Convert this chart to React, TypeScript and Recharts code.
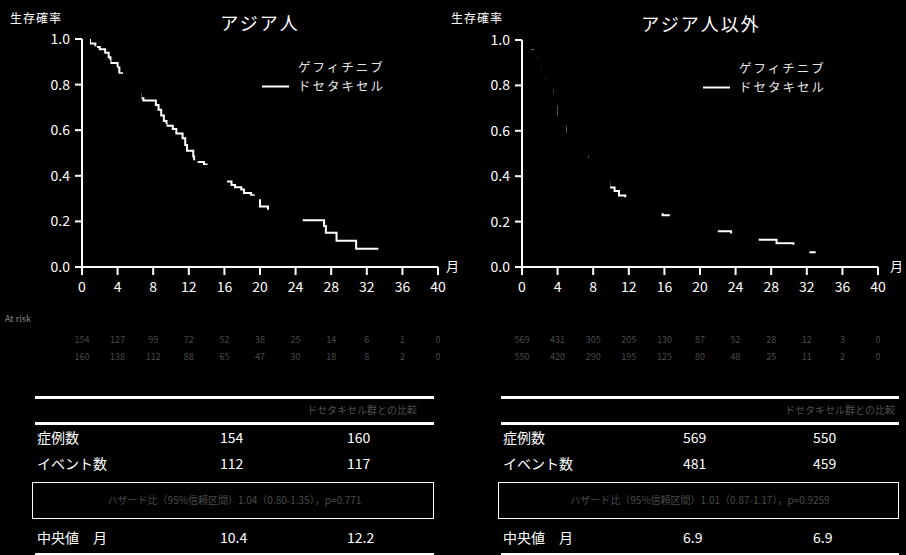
import React from 'react';
import { LineChart, Line, XAxis, YAxis, Legend } from 'recharts';

const FONT = '"Noto Sans CJK JP", "Noto Sans", sans-serif';

// ---------- axis ticks ----------
const xTicks = [0, 4, 8, 12, 16, 20, 24, 28, 32, 36, 40];
const yTicks = [0, 0.2, 0.4, 0.6, 0.8, 1.0];
const seriesNames = ['ゲフィチニブ', 'ドセタキセル'];

// ---------- アジア人 ----------
const asianDocMonths = [0, 0.9, 1.5, 2.0, 2.6, 3.0, 3.2, 4.0, 4.2, 4.5, 5.0, 5.5, 6.0, 6.6, 6.9, 8.3, 8.6, 8.9, 9.2, 9.5, 10.2, 10.6, 11.3, 11.6, 11.8, 12.5, 12.6, 13.7, 14.0, 14.3, 14.8, 15.3, 16.0, 16.8, 17.2, 17.9, 18.2, 19.0, 19.3, 20.0, 20.9, 21.2, 22.0, 23.0, 24.4, 27.2, 27.4, 28.6, 30.8, 33.3];
const asianDocSurv = [1.0, 0.98, 0.965, 0.955, 0.94, 0.92, 0.895, 0.875, 0.85, 0.83, 0.80, 0.78, 0.76, 0.74, 0.73, 0.71, 0.69, 0.665, 0.64, 0.62, 0.605, 0.585, 0.565, 0.535, 0.51, 0.485, 0.46, 0.45, 0.43, 0.415, 0.40, 0.385, 0.375, 0.36, 0.35, 0.34, 0.325, 0.315, 0.305, 0.265, 0.255, 0.245, 0.235, 0.22, 0.205, 0.18, 0.15, 0.115, 0.08, 0.08];
const asianGefMonths = [0, 0.7, 1.5, 2.3, 3.0, 3.8, 4.5, 5.0, 5.5, 6.0, 6.5, 7.2, 8.0, 8.6, 9.3, 10.0, 10.4, 11.0, 11.8, 12.8, 14.0, 14.3, 14.8, 15.3, 16.0, 16.1, 21.2, 22.0, 23.0, 24.4, 24.6, 25.5, 27.0, 28.0, 30.0, 32.0];
const asianGefSurv = [1.0, 0.96, 0.93, 0.90, 0.87, 0.84, 0.83, 0.80, 0.78, 0.76, 0.71, 0.68, 0.65, 0.62, 0.58, 0.53, 0.50, 0.48, 0.46, 0.44, 0.43, 0.415, 0.40, 0.385, 0.375, 0.305, 0.245, 0.235, 0.22, 0.205, 0.17, 0.14, 0.12, 0.09, 0.06, 0.05];

// ---------- アジア人以外 ----------
const nonAsianDocMonths = [0, 0.5, 0.8, 1.3, 1.8, 2.1, 2.3, 2.6, 2.8, 3.2, 3.6, 3.9, 4.1, 4.6, 5.1, 5.6, 6.0, 6.9, 7.6, 8.3, 9.1, 9.8, 10.4, 10.9, 11.6, 12.5, 13.1, 14.5, 15.8, 16.8, 18.5, 20.1, 21.5, 21.8, 23.5, 24.7, 26.5, 28.6, 30.5, 32.1, 33.0];
const nonAsianDocSurv = [1.0, 0.97, 0.955, 0.935, 0.92, 0.89, 0.87, 0.845, 0.83, 0.80, 0.765, 0.72, 0.67, 0.63, 0.595, 0.57, 0.55, 0.50, 0.485, 0.43, 0.375, 0.35, 0.335, 0.315, 0.295, 0.28, 0.265, 0.245, 0.228, 0.215, 0.20, 0.182, 0.165, 0.157, 0.14, 0.125, 0.12, 0.105, 0.085, 0.065, 0.065];
const nonAsianGefMonths = [0, 0.5, 0.8, 1.3, 1.9, 2.1, 2.35, 2.6, 2.9, 3.2, 3.7, 3.9, 4.2, 4.6, 5.2, 5.6, 6.0, 6.9, 7.7, 8.3, 9.1, 9.7, 11.6, 12.5, 13.1, 14.5, 16.8, 18.5, 20.1, 21.5, 21.8, 24.7, 26.4, 30.5, 32.1, 33.0];
const nonAsianGefSurv = [1.0, 0.97, 0.95, 0.935, 0.92, 0.89, 0.87, 0.845, 0.83, 0.80, 0.765, 0.72, 0.67, 0.63, 0.595, 0.57, 0.55, 0.50, 0.485, 0.43, 0.375, 0.30, 0.295, 0.28, 0.265, 0.245, 0.215, 0.20, 0.182, 0.165, 0.14, 0.125, 0.09, 0.085, 0.05, 0.05];

// ---------- at risk ----------
const atRiskMonths = [0, 4, 8, 12, 16, 20, 24, 28, 32, 36, 40];
const asianGefRisk = [154, 127, 99, 72, 52, 38, 25, 14, 6, 1, 0];
const asianDocRisk = [160, 138, 112, 88, 65, 47, 30, 18, 8, 2, 0];
const nonAsianGefRisk = [569, 431, 305, 205, 130, 87, 52, 28, 12, 3, 0];
const nonAsianDocRisk = [550, 420, 290, 195, 125, 80, 48, 25, 11, 2, 0];

// ---------- tables ----------
const rowLabels = ['症例数', 'イベント数', '中央値　月'];
const asianTable = [['154', '160'], ['112', '117'], ['10.4', '12.2']];
const nonAsianTable = [['569', '550'], ['481', '459'], ['6.9', '6.9']];
const asianHR = 'ハザード比（95%信頼区間）1.04（0.80-1.35），p=0.771';
const nonAsianHR = 'ハザード比（95%信頼区間）1.01（0.87-1.17），p=0.9259';
const tableHeader = 'ドセタキセル群との比較';

const toSeries = (t: number[], s: number[]) => t.map((x, i) => ({ t: x, s: s[i] }));

const Txt = ({ x, y, size, children, color = '#fff', align = 'left', w = 0, ls = 0 }: any) => {
  const style: any = {
    position: 'absolute',
    top: y - size / 2,
    fontSize: size,
    lineHeight: 1,
    color,
    fontFamily: FONT,
    whiteSpace: 'nowrap',
    letterSpacing: ls,
  };
  if (align === 'center') {
    style.left = x - w / 2;
    style.width = w;
    style.textAlign = 'center';
  } else {
    style.left = x;
  }
  return <div style={style}>{children}</div>;
};

const renderLegend = (props: any) => {
  const items = [...(props.payload || [])].sort(
    (a: any, b: any) => seriesNames.indexOf(a.value) - seriesNames.indexOf(b.value)
  );
  return (
    <div>
      {items.map((it: any) => (
        <div key={it.value} style={{ display: 'flex', alignItems: 'center', height: 19 }}>
          <svg width={36} height={19} style={{ display: 'block' }}>
            <line x1={0} x2={27} y1={9.5} y2={9.5} stroke={it.color} strokeWidth={2} />
          </svg>
          <span style={{ color: '#e6e6e6', fontSize: 12.5, fontFamily: FONT, letterSpacing: 2, lineHeight: 1 }}>
            {it.value}
          </span>
        </div>
      ))}
    </div>
  );
};

const KMPanel = ({ left, yAxisWidth, marginRight, marginTop, doc, gef, legendLeft, legendTop }: any) => (
  <div style={{ position: 'absolute', left, top: 0 }}>
    <LineChart width={453} height={300} margin={{ top: marginTop, right: marginRight, bottom: 3, left: 0 }}>
      <XAxis
        type="number"
        dataKey="t"
        domain={[0, 40]}
        ticks={xTicks}
        allowDataOverflow
        height={30}
        axisLine={{ stroke: '#fff', strokeWidth: 2 }}
        tickLine={{ stroke: '#fff', strokeWidth: 2 }}
        tickSize={8}
        tickMargin={7}
        tick={{ fill: '#fff', fontSize: 14, fontFamily: FONT }}
        interval={0}
      />
      <YAxis
        type="number"
        dataKey="s"
        domain={[0, 1]}
        ticks={yTicks}
        allowDataOverflow
        width={yAxisWidth}
        axisLine={{ stroke: '#fff', strokeWidth: 2 }}
        tickLine={{ stroke: '#fff', strokeWidth: 2 }}
        tickSize={7}
        tickMargin={5}
        tick={{ fill: '#fff', fontSize: 14, fontFamily: FONT }}
        tickFormatter={(v: number) => v.toFixed(1)}
        interval={0}
      />
      <Legend
        layout="vertical"
        align="center"
        verticalAlign="middle"
        content={renderLegend}
        wrapperStyle={{ left: legendLeft, top: legendTop, width: 160, height: 40 }}
      />
      <Line
        data={doc}
        dataKey="s"
        name="ドセタキセル"
        type="stepAfter"
        stroke="#ffffff"
        strokeWidth={2}
        dot={false}
        activeDot={false}
        isAnimationActive={false}
      />
      <Line
        data={gef}
        dataKey="s"
        name="ゲフィチニブ"
        type="stepAfter"
        stroke="#000000"
        strokeWidth={3.5}
        dot={false}
        activeDot={false}
        isAnimationActive={false}
      />
    </LineChart>
  </div>
);

const AtRisk = ({ x0, gefRow, docRow }: any) => (
  <>
    {atRiskMonths.map((m, i) => (
      <React.Fragment key={m}>
        <Txt x={x0 + m * 8.9} y={339} size={9} color="#4a4a4a" align="center" w={30}>{gefRow[i]}</Txt>
        <Txt x={x0 + m * 8.9} y={356} size={9} color="#4a4a4a" align="center" w={30}>{docRow[i]}</Txt>
      </React.Fragment>
    ))}
  </>
);

const Table = ({ x1, x2, labelX, c1, c2, vals, hr, headerX }: any) => {
  const hline = (y: number) => (
    <div style={{ position: 'absolute', left: x1, top: y - 1.5, width: x2 - x1, height: 3, background: '#fff' }} />
  );
  return (
    <>
      {hline(397)}
      {hline(423)}
      {hline(554)}
      <Txt x={headerX} y={410} size={10} color="#505050">{tableHeader}</Txt>
      <Txt x={labelX} y={437} size={14}>{rowLabels[0]}</Txt>
      <Txt x={c1} y={437} size={14}>{vals[0][0]}</Txt>
      <Txt x={c2} y={437} size={14}>{vals[0][1]}</Txt>
      <Txt x={labelX} y={463} size={14}>{rowLabels[1]}</Txt>
      <Txt x={c1} y={463} size={14}>{vals[1][0]}</Txt>
      <Txt x={c2} y={463} size={14}>{vals[1][1]}</Txt>
      <div
        style={{
          position: 'absolute',
          left: x1 - 3,
          top: 482,
          width: x2 - x1 + 1,
          height: 35,
          border: '1.5px solid #fff',
        }}
      />
      <Txt x={(x1 + x2) / 2} y={500} size={10} color="#4a4a4a" align="center" w={x2 - x1}>{hr}</Txt>
      <Txt x={labelX} y={537} size={14}>{rowLabels[2]}</Txt>
      <Txt x={c1} y={537} size={14}>{vals[2][0]}</Txt>
      <Txt x={c2} y={537} size={14}>{vals[2][1]}</Txt>
    </>
  );
};

export default function App() {
  return (
    <div
      style={{
        position: 'absolute',
        left: 0,
        top: 0,
        width: 906,
        height: 555,
        background: '#000',
        overflow: 'hidden',
        fontFamily: FONT,
      }}
    >
      <KMPanel
        left={0}
        yAxisWidth={82}
        marginRight={15}
        marginTop={39}
        doc={toSeries(asianDocMonths, asianDocSurv)}
        gef={toSeries(asianGefMonths, asianGefSurv)}
        legendLeft={262}
        legendTop={58}
      />
      <KMPanel
        left={453}
        yAxisWidth={69}
        marginRight={28}
        marginTop={40}
        doc={toSeries(nonAsianDocMonths, nonAsianDocSurv)}
        gef={toSeries(nonAsianGefMonths, nonAsianGefSurv)}
        legendLeft={250}
        legendTop={59}
      />

      <Txt x={10} y={18} size={12} ls={1}>生存確率</Txt>
      <Txt x={451} y={18} size={12} ls={1}>生存確率</Txt>
      <Txt x={260} y={22} size={18} align="center" w={200} ls={2}>アジア人</Txt>
      <Txt x={701} y={23} size={18} align="center" w={220} ls={2}>アジア人以外</Txt>
      <Txt x={446} y={265} size={13}>月</Txt>
      <Txt x={890} y={265} size={13}>月</Txt>

      <Txt x={5} y={318} size={9} color="#8a8a8a">At risk</Txt>
      <AtRisk x0={82} gefRow={asianGefRisk} docRow={asianDocRisk} />
      <AtRisk x0={522} gefRow={nonAsianGefRisk} docRow={nonAsianDocRisk} />

      <Table x1={35} x2={434} labelX={37} c1={220} c2={347} vals={asianTable} hr={asianHR} headerX={307} />
      <Table x1={501} x2={899} labelX={503} c1={683} c2={813} vals={nonAsianTable} hr={nonAsianHR} headerX={785} />
    </div>
  );
}
